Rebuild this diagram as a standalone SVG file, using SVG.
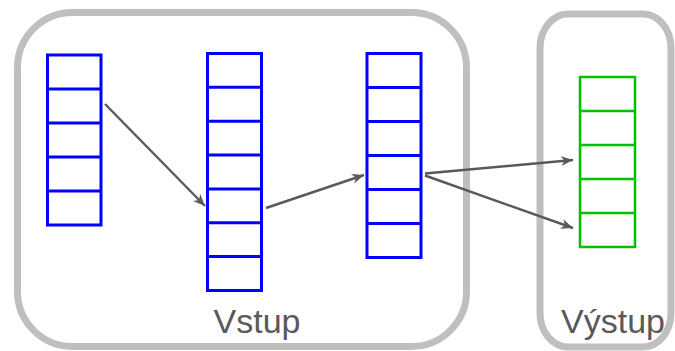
<svg xmlns="http://www.w3.org/2000/svg" width="675" height="351" viewBox="0 0 675 351">
<style>
.cont{fill:#fff;stroke:#bfbfbf;stroke-width:7}
.blue{fill:#fff;stroke:#0000ff;stroke-width:3}
.green{fill:#fff;stroke:#00c000;stroke-width:2.5}
.conn{fill:none;stroke:#595959;stroke-width:2.4}
.lbl{font-family:"Liberation Sans",Arial,sans-serif;font-size:34px;fill:#595959;text-anchor:middle}
</style>
<defs>
<marker id="ah" markerUnits="userSpaceOnUse" markerWidth="14" markerHeight="12" refX="12" refY="5" orient="auto">
<path d="M0,0 L12,5 L0,10 L3.5,5 z" fill="#595959"/>
</marker>
</defs>
<rect width="675" height="351" fill="#fff"/>
<g id="vstup">
<rect class="cont" x="17.5" y="12.5" width="449" height="334" rx="55" ry="55"/>
<text class="lbl" x="257" y="333">Vstup</text>
</g>
<g id="vystup">
<rect class="cont" x="540" y="14" width="131" height="333" rx="28" ry="34"/>
<text class="lbl" x="613" y="333">Výstup</text>
</g>
<g id="col1">
<rect class="blue" x="47.5" y="55" width="53.5" height="170"/>
<path class="blue" d="M47.5,89H101M47.5,123H101M47.5,157H101M47.5,191H101"/>
</g>
<g id="col2">
<rect class="blue" x="207.5" y="53.5" width="54" height="237"/>
<path class="blue" d="M207.5,87.3H261.5M207.5,121.2H261.5M207.5,155H261.5M207.5,188.9H261.5M207.5,222.7H261.5M207.5,256.6H261.5"/>
</g>
<g id="col3">
<rect class="blue" x="367" y="53.5" width="54" height="204"/>
<path class="blue" d="M367,87.5H421M367,121.5H421M367,155.5H421M367,189.5H421M367,223.5H421"/>
</g>
<g id="col4">
<rect class="green" x="580" y="77" width="55" height="170"/>
<path class="green" d="M580,111H635M580,145H635M580,179H635M580,213H635"/>
</g>
<g id="connectors">
<line class="conn" x1="105" y1="104" x2="205" y2="206" marker-end="url(#ah)"/>
<line class="conn" x1="266" y1="208" x2="364" y2="175" marker-end="url(#ah)"/>
<line class="conn" x1="425" y1="173.5" x2="573" y2="160" marker-end="url(#ah)"/>
<line class="conn" x1="425" y1="175.5" x2="573" y2="228" marker-end="url(#ah)"/>
</g>
</svg>
